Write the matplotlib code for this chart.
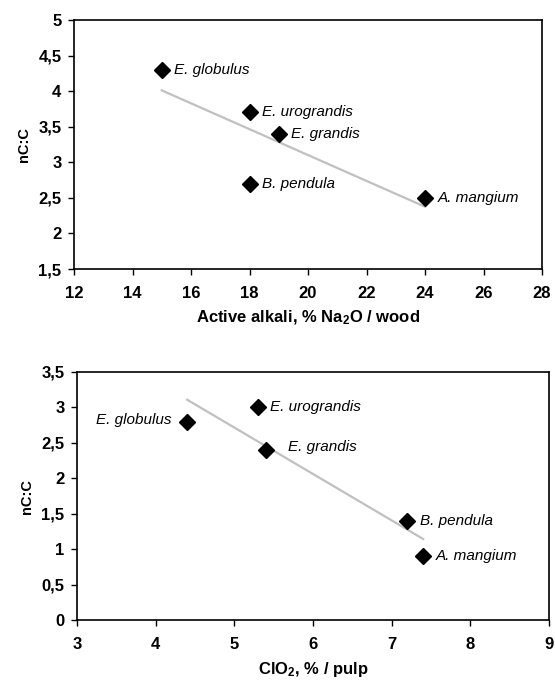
import numpy as np
import matplotlib
matplotlib.use("Agg")
from matplotlib import pyplot as plt
from matplotlib.ticker import FuncFormatter, MultipleLocator

plt.rcParams["font.family"] = ["Liberation Sans", "DejaVu Sans"]
plt.rcParams["mathtext.fontset"] = "custom"
plt.rcParams["mathtext.rm"] = "Liberation Sans:bold"
plt.rcParams["mathtext.default"] = "rm"

species = ["E. globulus", "E. urograndis", "E. grandis", "B. pendula", "A. mangium"]

alkali = [15, 18, 19, 18, 24]
nc_alkali = [4.3, 3.7, 3.4, 2.7, 2.5]

clo2 = [4.4, 5.3, 5.4, 7.2, 7.4]
nc_clo2 = [2.8, 3.0, 2.4, 1.4, 0.9]

# label offsets in points (dx, dy, ha)
offs_top = [(9, 0, "left")] * 5
offs_bot = [(-11, 1, "right"), (9, 0, "left"), (16, 2, "left"), (9, 0, "left"), (9, 0, "left")]

comma = FuncFormatter(lambda v, p: "{:g}".format(v).replace(".", ","))


def draw(ax, x, y, offs, xlim, ylim, xstep, ystep, xlabel):
    k, b = np.polyfit(x, y, 1)
    xs = np.array([min(x), max(x)])
    ax.plot(xs, k * xs + b, color="#c0c0c0", lw=1.6, zorder=1)
    ax.plot(x, y, "D", color="black", ms=8, zorder=2, clip_on=False)
    for xi, yi, name, (dx, dy, ha) in zip(x, y, species, offs):
        ax.annotate(name, (xi, yi), xytext=(dx, dy), textcoords="offset points",
                    ha=ha, va="center", style="italic", fontsize=11)
    ax.set_xlim(*xlim)
    ax.set_ylim(*ylim)
    ax.xaxis.set_major_locator(MultipleLocator(xstep))
    ax.yaxis.set_major_locator(MultipleLocator(ystep))
    ax.xaxis.set_major_formatter(comma)
    ax.yaxis.set_major_formatter(comma)
    ax.tick_params(direction="out", length=4, width=1, labelsize=12)
    ax.tick_params(axis="x", pad=8)
    ax.tick_params(axis="y", pad=5)
    for t in ax.get_xticklabels() + ax.get_yticklabels():
        t.set_fontweight("bold")
    for s in ax.spines.values():
        s.set_linewidth(1.2)
    ax.set_ylabel("nC:C", fontweight="bold", fontsize=10.5, labelpad=5)
    ax.set_xlabel(xlabel, fontweight="bold", fontsize=12, labelpad=6)


fig = plt.figure(figsize=(5.55, 6.82), dpi=100)
ax1 = fig.add_axes([74 / 555, 1 - 269 / 682, 468 / 555, 249 / 682])
ax2 = fig.add_axes([77 / 555, 1 - 620 / 682, 472 / 555, 248 / 682])

draw(ax1, alkali, nc_alkali, offs_top, (12, 28), (1.5, 5), 2, 0.5,
     "Active alkali, % Na$_2$O / wood")
draw(ax2, clo2, nc_clo2, offs_bot, (3, 9), (0, 3.5), 1, 0.5,
     "ClO$_2$, % / pulp")

fig.savefig("out.png", dpi=100)
